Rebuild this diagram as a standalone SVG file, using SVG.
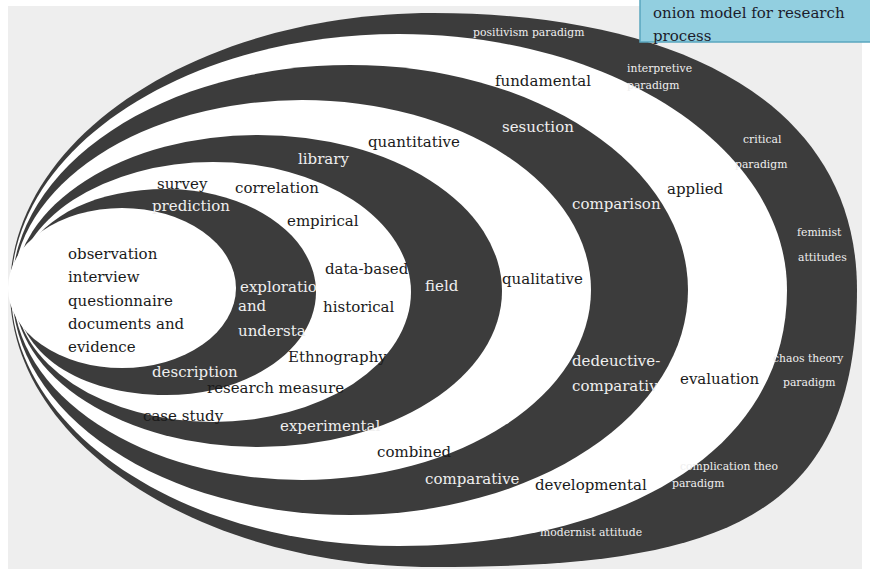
<svg xmlns="http://www.w3.org/2000/svg" width="870" height="571" viewBox="0 0 870 571">
<style>
.dk{fill:#3c3c3c}
.wh{fill:#ffffff}
.t{font-family:"DejaVu Serif","Liberation Serif",serif;font-size:15px}
.td{fill:#1a1a1a}
.tw{fill:#efefef}
.s{font-family:"DejaVu Serif","Liberation Serif",serif;font-size:10.8px;fill:#efefef}
</style>
<rect x="0" y="0" width="870" height="571" fill="#ffffff"/>
<rect x="8" y="6" width="854" height="563" fill="#eeeeee"/>
<g id="onion">
<path id="ring1" class="dk" d="M433.5,13 C666.4,13 857,96.1 857,290 C857,525.5 708.8,567 433.5,567 C199.6,567 10,443 10,290 C10,137 199.6,13 433.5,13 Z"/>
<path id="ring2" class="wh" d="M399,34 C613.3,34 787,148.6 787,290 C787,456.4 612.4,546 399,546 C184.7,546 11,431.4 11,290 C11,148.6 184.7,34 399,34 Z"/>
<ellipse id="ring3" class="dk" cx="350" cy="290" rx="338" ry="225"/>
<ellipse id="ring4" class="wh" cx="302" cy="290" rx="289" ry="190"/>
<ellipse id="ring5" class="dk" cx="258" cy="291" rx="244" ry="156"/>
<ellipse id="ring6" class="wh" cx="213" cy="292" rx="198" ry="130"/>
<path id="ring7" class="dk" d="M166,189 C248.8,189 316,235.1 316,292 C316,348.9 248.8,395 166,395 C80,395 16,353.8 16,292 C16,230.2 80,189 166,189 Z"/>
<ellipse id="ring8" class="wh" cx="122" cy="288" rx="114" ry="80"/>
</g>
<g id="title">
<rect x="640" y="-2" width="232" height="44" fill="#92cfe0" stroke="#5aa6bf" stroke-width="1.5"/>
<text class="t" x="653" y="18" fill="#1c1c2c">onion model for research</text>
<text class="t" x="653" y="41" fill="#1c1c2c">process</text>
</g>
<g id="layer8-text" class="t td">
<text x="68" y="259">observation</text>
<text x="68" y="282">interview</text>
<text x="68" y="306">questionnaire</text>
<text x="68" y="329">documents and</text>
<text x="68" y="352">evidence</text>
</g>
<g id="layer7-text" class="t tw">
<text x="152" y="211">prediction</text>
<text x="240" y="292">exploratio</text>
<text x="238" y="311">and</text>
<text x="238" y="336">understa</text>
<text x="152" y="377">description</text>
</g>
<g id="layer6-text" class="t td">
<text x="157" y="189">survey</text>
<text x="235" y="193">correlation</text>
<text x="287" y="226">empirical</text>
<text x="325" y="274">data-based</text>
<text x="323" y="312">historical</text>
<text x="288" y="362">Ethnography</text>
<text x="207" y="393">research measure</text>
<text x="143" y="421">case study</text>
</g>
<g id="layer5-text" class="t tw">
<text x="298" y="164">library</text>
<text x="425" y="291">field</text>
<text x="280" y="431">experimental</text>
</g>
<g id="layer4-text" class="t td">
<text x="368" y="147">quantitative</text>
<text x="502" y="284">qualitative</text>
<text x="377" y="457">combined</text>
</g>
<g id="layer3-text" class="t tw">
<text x="502" y="132">sesuction</text>
<text x="572" y="209">comparison</text>
<text x="572" y="366">dedeuctive-</text>
<text x="572" y="391">comparativ</text>
<text x="425" y="484">comparative</text>
</g>
<g id="layer2-text" class="t td">
<text x="495" y="86">fundamental</text>
<text x="667" y="194">applied</text>
<text x="680" y="384">evaluation</text>
<text x="535" y="490">developmental</text>
</g>
<g id="layer1-text" class="s">
<text x="473" y="36">positivism paradigm</text>
<text x="627" y="72">interpretive</text>
<text x="627" y="89">paradigm</text>
<text x="743" y="143">critical</text>
<text x="735" y="168">paradigm</text>
<text x="797" y="236">feminist</text>
<text x="798" y="261">attitudes</text>
<text x="773" y="362">chaos theory</text>
<text x="783" y="386">paradigm</text>
<text x="680" y="470">complication theo</text>
<text x="672" y="487">paradigm</text>
<text x="540" y="536">modernist attitude</text>
</g>
</svg>
